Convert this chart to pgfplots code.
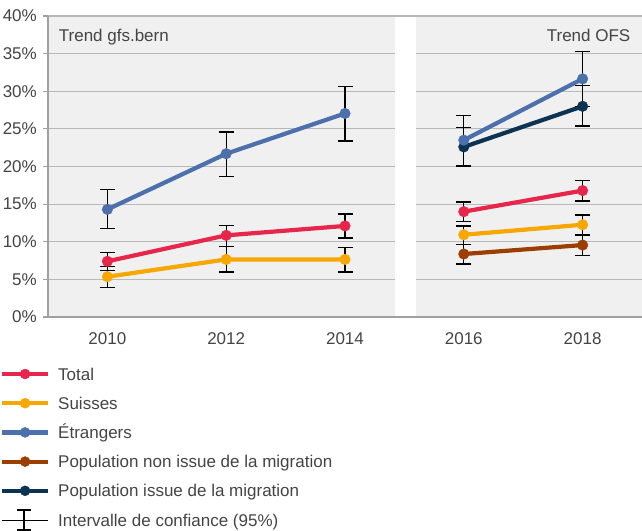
\documentclass[border=0pt]{standalone}
\usepackage{fontspec}
\setmainfont{Liberation Sans}
\usepackage{pgfplots}
\pgfplotsset{compat=1.18}
\definecolor{cTot}{HTML}{E6264B}
\definecolor{cSui}{HTML}{F6A800}
\definecolor{cEtr}{HTML}{4B70AB}
\definecolor{cNon}{HTML}{9C3E00}
\definecolor{cIss}{HTML}{0C3351}
\definecolor{bg}{HTML}{F0F0F0}
\definecolor{gridc}{HTML}{B8B8B8}
\definecolor{axc}{HTML}{A0A0A0}
\definecolor{txt}{HTML}{444444}
\pgfplotsset{
  ser/.style={color=#1, line width=4.2pt, mark=*, mark size=5.3pt,
    mark options={solid, line width=0.4pt}, forget plot,
    error bars/.cd, y dir=both, y explicit, error mark=-,
    error bar style={black, line width=1.3pt},
    error mark options={rotate=90, mark size=7.5pt, black, line width=1.3pt}},
  leg/.style={legend image code/.code={\draw[#1,line width=4.2pt] (0pt,0pt)--(46pt,0pt); \fill[#1] (23pt,0pt) circle (5pt);}}
}
\begin{document}
\begin{tikzpicture}
\useasboundingbox (0,0) rectangle (642pt,530pt);
\begin{axis}[
 scale only axis, width=594pt, height=301pt,
 at={(48pt,213pt)}, anchor=south west,
 xmin=-0.5, xmax=4.5, ymin=0, ymax=40,
 axis background/.style={fill=bg},
 axis lines*=left, axis line style={-, draw=axc, line width=1.5pt},
 ytick={0,5,...,40}, yticklabel={\pgfmathprintnumber{\tick}\%},
 xtick={0,1,2,3,4}, xticklabels={2010,2012,2014,2016,2018},
 ymajorgrids, grid style={draw=gridc, line width=1.2pt},
 tick align=outside, major tick length=5pt,
 ytick style={draw=axc, line width=1.2pt}, xtick style={draw=none},
 tick label style={font=\fontsize{17}{20}\selectfont, text=txt},
 /pgf/number format/assume math mode=true,
 yticklabel style={inner sep=0pt, xshift=-6pt},
 xticklabel style={inner sep=0pt, yshift=-10pt},
 unbounded coords=jump,
 clip=false,
 legend style={at={(axis description cs:0,0)}, anchor=north west, xshift=-48pt, yshift=-51pt,
   draw=none, fill=none, inner sep=0pt, outer sep=0pt, row sep=17.2pt,
   font=\fontsize{17}{20}\selectfont, text=txt,
   nodes={inner sep=0pt, text height=12pt, text depth=0pt},
   /tikz/every odd column/.append style={column sep=8pt}},
 legend cell align=left,
]
\fill[white] (axis cs:2.42,0.1) rectangle (axis cs:2.6,39.85);
\node[anchor=base west, inner sep=0pt, text=txt, font=\fontsize{17}{20}\selectfont] at (axis cs:-0.41,36.6) {Trend gfs.bern};
\node[anchor=base east, inner sep=0pt, text=txt, font=\fontsize{17}{20}\selectfont] at (axis cs:4.403,36.6) {Trend OFS};
% Suisses
\addplot[ser=cSui] coordinates {
 (0,5.35) += (0,1.35) -= (0,1.4)
 (1,7.65) += (0,1.7) -= (0,1.65)
 (2,7.65) += (0,1.6) -= (0,1.67)
 (2.5,nan)
 (3,10.93) += (0,1.17) -= (0,1.28)
 (4,12.26) += (0,1.29) -= (0,1.36)
};
% Total
\addplot[ser=cTot] coordinates {
 (0,7.4) += (0,1.2) -= (0,1.2)
 (1,10.85) += (0,1.35) -= (0,1.5)
 (2,12.1) += (0,1.6) -= (0,1.6)
 (2.5,nan)
 (3,14.0) += (0,1.3) -= (0,1.35)
 (4,16.8) += (0,1.35) -= (0,1.4)
};
% Population non issue de la migration
\addplot[ser=cNon] coordinates {
 (2.5,nan)
 (3,8.37) += (0,1.28) -= (0,1.33)
 (4,9.56) += (0,1.34) -= (0,1.36)
};
% Population issue de la migration
\addplot[ser=cIss] coordinates {
 (2.5,nan)
 (3,22.6) += (0,2.6) -= (0,2.6)
 (4,28.0) += (0,2.8) -= (0,2.6)
};
% Etrangers
\addplot[ser=cEtr] coordinates {
 (0,14.3) += (0,2.6) -= (0,2.5)
 (1,21.7) += (0,2.9) -= (0,3.0)
 (2,27.05) += (0,3.55) -= (0,3.65)
 (2.5,nan)
 (3,23.5) += (0,3.3) -= (0,3.4)
 (4,31.65) += (0,3.65) -= (0,3.65)
};
\addlegendimage{leg=cTot}
\addlegendentry{Total}
\addlegendimage{leg=cSui}
\addlegendentry{Suisses}
\addlegendimage{leg=cEtr}
\addlegendentry{Étrangers}
\addlegendimage{leg=cNon}
\addlegendentry{Population non issue de la migration}
\addlegendimage{leg=cIss}
\addlegendentry{Population issue de la migration}
\addlegendimage{legend image code/.code={\path (0pt,0pt)--(46pt,0pt); \draw[black,line width=1.3pt,overlay] (22pt,-10pt)--(22pt,10pt) (15pt,-10pt)--(29pt,-10pt) (15pt,10pt)--(29pt,10pt);}}
\addlegendentry{Intervalle de confiance (95\%)}
\end{axis}
\end{tikzpicture}
\end{document}
